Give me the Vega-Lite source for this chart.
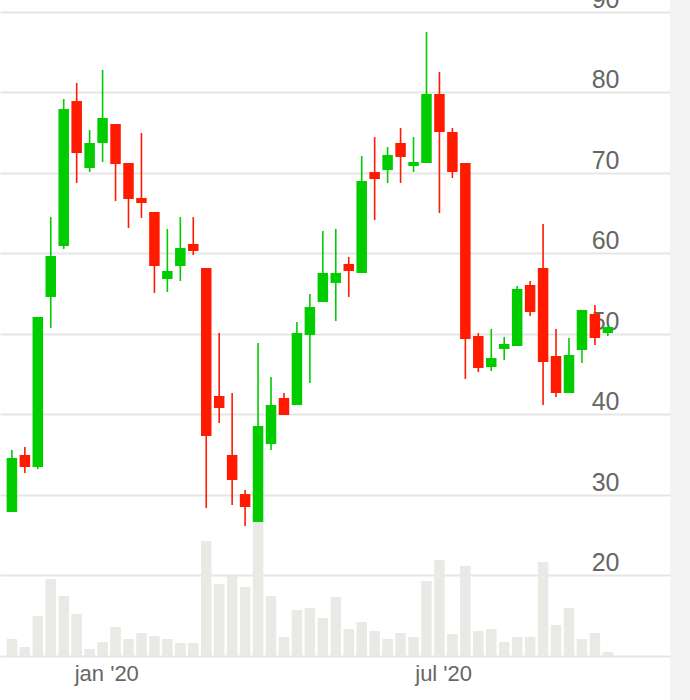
{
  "$schema": "https://vega.github.io/schema/vega-lite/v6.json",
  "width": 670,
  "height": 700,
  "autosize": {"type": "none"},
  "padding": {"left": 0, "top": 0, "right": 20, "bottom": 0},
  "background": "#f3f3f3",
  "view": {"fill": "white", "stroke": null},
  "config": {"font": "Liberation Sans"},
  "data": {"values": [
    {"date": "2019-11-11", "open": 27.89, "high": 35.59, "low": 27.89, "close": 34.60, "volume": 2.59},
    {"date": "2019-11-18", "open": 34.97, "high": 35.96, "low": 32.73, "close": 33.48, "volume": 1.37},
    {"date": "2019-11-25", "open": 33.48, "high": 52.11, "low": 33.23, "close": 52.11, "volume": 6.10},
    {"date": "2019-12-02", "open": 54.60, "high": 64.53, "low": 50.75, "close": 59.69, "volume": 11.74},
    {"date": "2019-12-09", "open": 60.93, "high": 79.19, "low": 60.56, "close": 77.95, "volume": 9.15},
    {"date": "2019-12-16", "open": 78.94, "high": 81.18, "low": 68.76, "close": 72.48, "volume": 6.40},
    {"date": "2019-12-23", "open": 70.62, "high": 75.34, "low": 70.12, "close": 73.73, "volume": 1.07},
    {"date": "2019-12-30", "open": 73.73, "high": 82.80, "low": 71.37, "close": 76.83, "volume": 2.13},
    {"date": "2020-01-06", "open": 76.09, "high": 76.09, "low": 66.52, "close": 71.12, "volume": 4.42},
    {"date": "2020-01-13", "open": 71.24, "high": 71.24, "low": 63.17, "close": 66.77, "volume": 2.59},
    {"date": "2020-01-20", "open": 66.89, "high": 74.97, "low": 64.41, "close": 66.27, "volume": 3.51},
    {"date": "2020-01-27", "open": 65.16, "high": 65.16, "low": 55.09, "close": 58.45, "volume": 3.05},
    {"date": "2020-02-03", "open": 56.83, "high": 63.04, "low": 55.22, "close": 57.83, "volume": 2.59},
    {"date": "2020-02-10", "open": 58.45, "high": 64.53, "low": 56.58, "close": 60.68, "volume": 1.98},
    {"date": "2020-02-17", "open": 61.18, "high": 64.53, "low": 59.81, "close": 60.31, "volume": 1.98},
    {"date": "2020-02-24", "open": 58.20, "high": 58.20, "low": 28.39, "close": 37.33, "volume": 17.53},
    {"date": "2020-03-02", "open": 42.30, "high": 50.12, "low": 38.94, "close": 40.81, "volume": 10.98},
    {"date": "2020-03-09", "open": 34.97, "high": 42.67, "low": 28.76, "close": 31.86, "volume": 12.20},
    {"date": "2020-03-16", "open": 30.12, "high": 30.62, "low": 26.15, "close": 28.51, "volume": 10.52},
    {"date": "2020-03-23", "open": 26.65, "high": 48.88, "low": 26.65, "close": 38.57, "volume": 20.43},
    {"date": "2020-03-30", "open": 36.34, "high": 44.66, "low": 35.59, "close": 41.18, "volume": 9.15},
    {"date": "2020-04-06", "open": 42.05, "high": 42.67, "low": 39.94, "close": 39.94, "volume": 2.90},
    {"date": "2020-04-13", "open": 41.18, "high": 51.49, "low": 41.18, "close": 50.12, "volume": 7.01},
    {"date": "2020-04-20", "open": 49.88, "high": 54.97, "low": 43.91, "close": 53.35, "volume": 7.32},
    {"date": "2020-04-27", "open": 53.98, "high": 62.80, "low": 53.98, "close": 57.58, "volume": 5.79},
    {"date": "2020-05-04", "open": 56.34, "high": 63.04, "low": 51.61, "close": 57.58, "volume": 8.99},
    {"date": "2020-05-11", "open": 58.70, "high": 59.57, "low": 54.60, "close": 57.83, "volume": 4.12},
    {"date": "2020-05-18", "open": 57.58, "high": 72.11, "low": 57.58, "close": 69.01, "volume": 5.18},
    {"date": "2020-05-25", "open": 70.12, "high": 74.47, "low": 64.16, "close": 69.25, "volume": 3.81},
    {"date": "2020-06-01", "open": 70.37, "high": 73.23, "low": 68.76, "close": 72.24, "volume": 2.59},
    {"date": "2020-06-08", "open": 73.73, "high": 75.59, "low": 68.76, "close": 71.99, "volume": 3.51},
    {"date": "2020-06-15", "open": 70.87, "high": 74.47, "low": 70.12, "close": 71.37, "volume": 2.90},
    {"date": "2020-06-22", "open": 71.24, "high": 87.52, "low": 71.24, "close": 79.81, "volume": 11.43},
    {"date": "2020-06-29", "open": 79.81, "high": 82.55, "low": 65.03, "close": 75.09, "volume": 14.63},
    {"date": "2020-07-06", "open": 75.09, "high": 75.59, "low": 69.38, "close": 70.12, "volume": 3.35},
    {"date": "2020-07-13", "open": 71.24, "high": 71.24, "low": 44.41, "close": 49.38, "volume": 13.72},
    {"date": "2020-07-20", "open": 49.75, "high": 50.12, "low": 45.28, "close": 45.78, "volume": 3.81},
    {"date": "2020-07-27", "open": 45.90, "high": 50.62, "low": 45.40, "close": 47.02, "volume": 4.12},
    {"date": "2020-08-03", "open": 48.14, "high": 49.63, "low": 46.77, "close": 48.76, "volume": 2.13},
    {"date": "2020-08-10", "open": 48.51, "high": 55.96, "low": 48.51, "close": 55.59, "volume": 2.90},
    {"date": "2020-08-17", "open": 56.09, "high": 56.58, "low": 52.24, "close": 52.73, "volume": 2.90},
    {"date": "2020-08-24", "open": 58.20, "high": 63.66, "low": 41.18, "close": 46.52, "volume": 14.33},
    {"date": "2020-08-31", "open": 47.27, "high": 50.62, "low": 42.17, "close": 42.67, "volume": 4.73},
    {"date": "2020-09-07", "open": 42.67, "high": 49.50, "low": 42.67, "close": 47.39, "volume": 7.32},
    {"date": "2020-09-14", "open": 48.01, "high": 52.98, "low": 46.40, "close": 52.98, "volume": 2.59},
    {"date": "2020-09-21", "open": 52.48, "high": 53.60, "low": 48.63, "close": 49.50, "volume": 3.51},
    {"date": "2020-09-28", "open": 50.12, "high": 50.87, "low": 49.75, "close": 50.87, "volume": 0.61}
  ]},
  "encoding": {
    "x": {
      "field": "date",
      "type": "temporal",
      "scale": {"type": "utc", "domain": [1573108500000, 1603918500000]},
      "axis": {
        "title": null,
        "values": [1577836800000, 1593561600000],
        "labelExpr": "lower(utcFormat(datum.value, \"%b '%y\"))",
        "grid": false,
        "ticks": false,
        "domain": false,
        "labelFont": "Liberation Sans",
        "labelFontSize": 22,
        "labelColor": "#666666",
        "labelBaseline": "alphabetic",
        "labelPadding": -20,
        "labelFlush": false,
        "labelOverlap": false
      }
    }
  },
  "layer": [
    {
      "mark": {"type": "bar", "size": 10.5, "color": "#e9e9e6"},
      "encoding": {
        "y": {"field": "volume", "type": "quantitative", "scale": {"domain": [-6.707, 100], "nice": false, "zero": false}, "axis": null}
      }
    },
    {
      "layer": [
        {
          "mark": {"type": "rule", "strokeWidth": 1.6},
          "encoding": {
            "y": {"field": "low", "type": "quantitative"},
            "y2": {"field": "high"},
            "color": {"condition": {"test": "datum.open < datum.close", "value": "#00cc00"}, "value": "#ff1a00"}
          }
        },
        {
          "mark": {"type": "bar", "size": 10.5},
          "encoding": {
            "y": {"field": "open", "type": "quantitative"},
            "y2": {"field": "close"},
            "color": {"condition": {"test": "datum.open < datum.close", "value": "#00cc00"}, "value": "#ff1a00"}
          }
        }
      ],
      "encoding": {
        "y": {
          "type": "quantitative",
          "scale": {"domain": [4.534, 91.49], "nice": false, "zero": false},
          "axis": {
            "title": null,
            "orient": "right",
            "values": [10, 20, 30, 40, 50, 60, 70, 80, 90],
            "labelExpr": "datum.value == 10 ? '' : datum.label",
            "grid": true,
            "gridColor": "#e6e6e6",
            "gridWidth": 2,
            "domain": false,
            "ticks": false,
            "labelAlign": "right",
            "labelBaseline": "alphabetic",
            "labelPadding": -51,
            "labelOffset": -4.5,
            "labelFont": "Liberation Sans",
            "labelFontSize": 25,
            "labelColor": "#666666",
            "labelFlush": false,
            "labelOverlap": false,
            "labelBound": false
          }
        }
      }
    }
  ],
  "resolve": {"scale": {"y": "independent"}}
}
